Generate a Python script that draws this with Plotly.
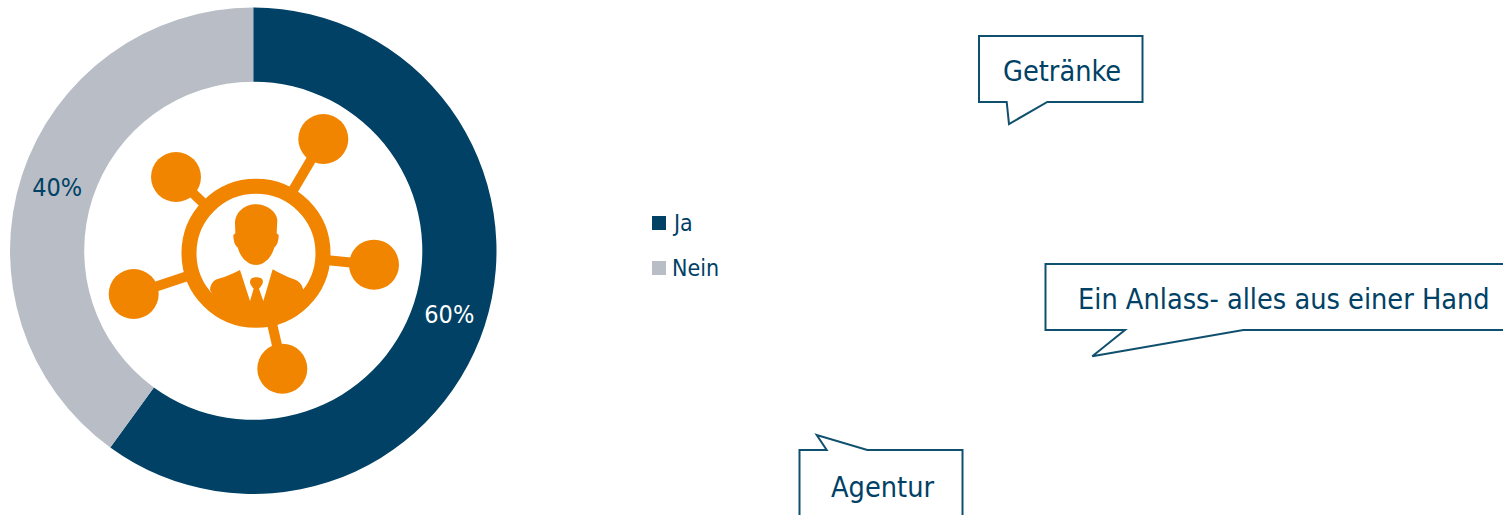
import re
import plotly.graph_objects as go

W, H = 1503, 515
categories = ["Ja", "Nein"]
values = [60, 40]
colors = ["#004165", "#B8BDC6"]
label_colors = ["#FFFFFF", "#004165"]
callouts = ["Getränke", "Ein Anlass- alles aus einer Hand", "Agentur"]

INK = "#004165"
LINE = "#10506F"
ORANGE = "#F28500"
FONT = "DejaVu Sans Condensed, DejaVu Sans"


def zoomed(path):
    """Icon outline was traced on a 3x crop whose origin is (90, 100)."""
    nums = iter(re.findall(r"-?\d+\.?\d*|[A-Za-z]", path))
    out, is_x = [], True
    for tok in nums:
        if tok.isalpha():
            out.append(tok)
            is_x = True
        else:
            v = float(tok)
            out.append(f"{(90 if is_x else 100) + v / 3:.2f}")
            is_x = not is_x
    return " ".join(out)


shapes = []


def circle(cx, cy, r, fill, line=None, lw=0):
    shapes.append(dict(type="circle", xref="x", yref="y", x0=cx - r, x1=cx + r, y0=cy - r, y1=cy + r,
                       fillcolor=fill, line=dict(color=line or fill, width=lw), layer="above"))


# network icon
hub = (256, 253.3)
nodes = [(323.3, 139), (176, 177), (374, 264.7), (133.7, 294), (282.3, 368.7)]
for nx, ny in nodes:
    shapes.append(dict(type="line", xref="x", yref="y", x0=hub[0], y0=hub[1], x1=nx, y1=ny,
                       line=dict(color=ORANGE, width=10), layer="above"))
for nx, ny in nodes:
    circle(nx, ny, 25, ORANGE)
circle(hub[0], hub[1], 67, "#FFFFFF", ORANGE, 15)

head = ("M498 313 C465 313 436 335 435 370 L436 400 L430 405 C430 425 436 438 443 442 "
        "C450 470 472 495 498 495 C524 495 546 470 553 442 C560 438 566 425 566 405 "
        "L560 400 L562 360 C560 335 530 313 498 313 Z")
body = ("M360 570 C362 548 372 540 385 536 C410 530 430 520 450 510 L480 603 L491 566 "
        "C484 558 480 552 480 545 C482 534 490 532 498 532 C508 532 518 534 519 545 "
        "C519 552 512 560 507 566 L520 603 L548 508 C570 520 590 530 612 538 "
        "C628 544 638 555 640 572 L600 640 L498 660 L400 640 Z")
for d in (head, body):
    shapes.append(dict(type="path", xref="x", yref="y", path=zoomed(d), fillcolor=ORANGE,
                       line=dict(width=0), layer="above"))


def callout(points):
    path = "M" + " L".join(f"{x} {y}" for x, y in points) + " Z"
    shapes.append(dict(type="path", xref="x", yref="y", path=path, fillcolor="rgba(0,0,0,0)",
                       line=dict(color=LINE, width=2), layer="above"))


callout([(979, 36), (1142.5, 36), (1142.5, 102), (1047.3, 102), (1009, 124), (1006.7, 102), (979, 102)])
callout([(1045.5, 264), (1520, 264), (1520, 330), (1243.3, 330), (1092.3, 356.3), (1125, 330), (1045.5, 330)])
callout([(799.5, 450), (826.7, 450), (816.7, 435), (867.3, 450), (962.5, 450), (962.5, 540), (799.5, 540)])

# legend swatches
legend_y = [223, 268]
for c, ly in zip(colors, legend_y):
    shapes.append(dict(type="rect", xref="x", yref="y", x0=652, x1=666, y0=ly - 7, y1=ly + 7,
                       fillcolor=c, line=dict(width=0), layer="above"))

annotations = [dict(x=670, y=ly, text=t, xref="x", yref="y", showarrow=False, xanchor="left",
                    font=dict(family=FONT, size=23, color=INK))
               for t, ly in zip(categories, legend_y)]
for t, (ax, ay) in zip(callouts, [(1062, 71), (1284, 299), (882, 487)]):
    annotations.append(dict(x=ax, y=ay, text=t, xref="x", yref="y", showarrow=False,
                            font=dict(family=FONT, size=28.6, color=INK)))

fig = go.Figure(go.Pie(
    labels=categories, values=values, hole=0.695, sort=False, direction="clockwise", rotation=0,
    marker=dict(colors=colors, line=dict(width=0)),
    textinfo="percent", textposition="inside", insidetextorientation="horizontal",
    textfont=dict(family=FONT, size=25, color=label_colors),
    domain=dict(x=[10 / W, 496.5 / W], y=[(H - 494.5) / H, (H - 7) / H]),
    showlegend=False,
))
fig.update_layout(
    width=W, height=H, margin=dict(l=0, r=0, t=0, b=0),
    paper_bgcolor="#FFFFFF", plot_bgcolor="rgba(0,0,0,0)",
    xaxis=dict(range=[0, W], visible=False, fixedrange=True),
    yaxis=dict(range=[H, 0], visible=False, fixedrange=True),
    shapes=shapes, annotations=annotations,
)
fig.write_html("out.html", config=dict(displayModeBar=False),
               post_script="document.body.style.margin='0';")
